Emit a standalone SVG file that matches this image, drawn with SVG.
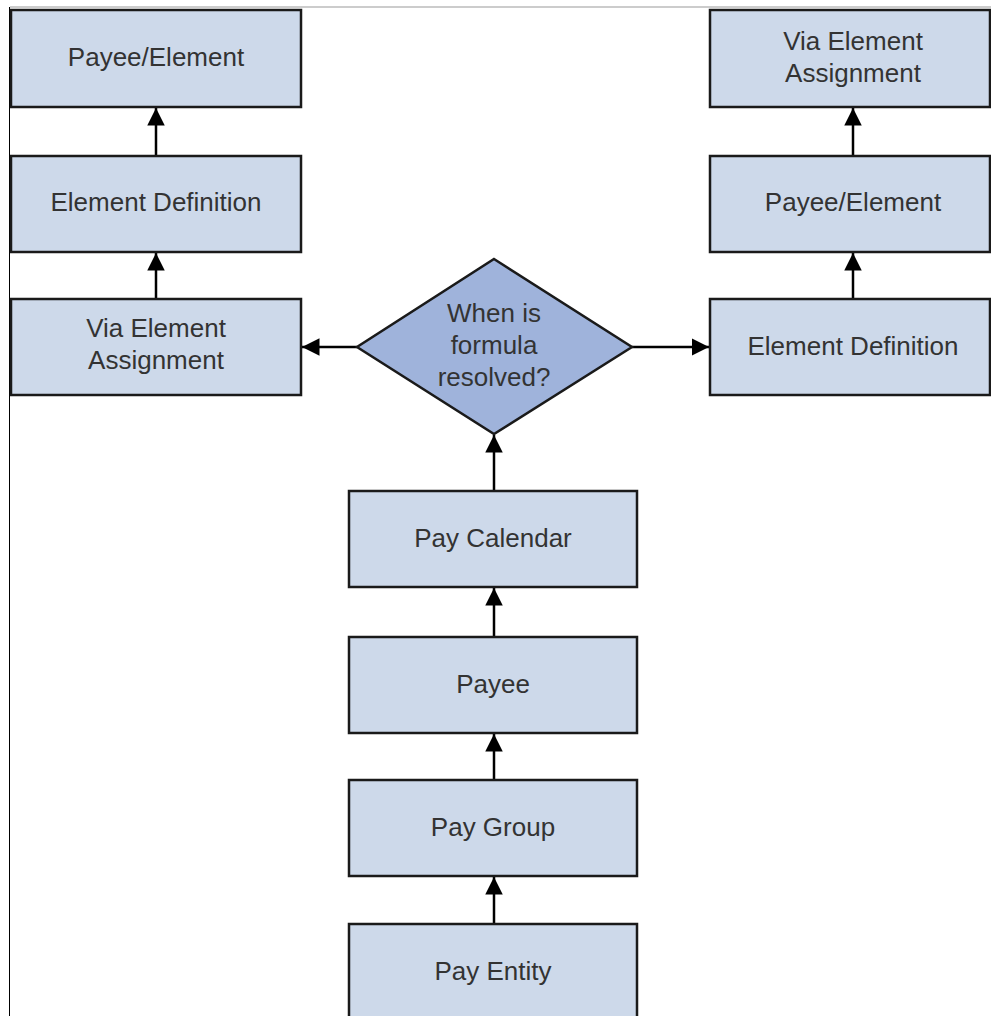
<svg xmlns="http://www.w3.org/2000/svg" width="991" height="1016" viewBox="0 0 991 1016">
<style>
.box{fill:#cdd9ea;stroke:#1a1a1a;stroke-width:2.5}
.dia{fill:#9fb3db;stroke:#1a1a1a;stroke-width:2.5}
.t{font-family:"Liberation Sans",Arial,sans-serif;font-size:26px;fill:#333;text-anchor:middle}
.c{stroke:#000;stroke-width:2.5;fill:none;marker-end:url(#ah)}
</style>
<defs>
<marker id="ah" viewBox="0 0 10 10" refX="10" refY="5" markerWidth="7" markerHeight="7" orient="auto" markerUnits="strokeWidth">
<path d="M0,0 L10,5 L0,10 Z" fill="#000"/>
</marker>
</defs>
<rect width="991" height="1016" fill="#fff"/>
<line x1="10" y1="7" x2="991" y2="7" stroke="#999" stroke-width="1"/>
<line x1="9.5" y1="7" x2="9.5" y2="1016" stroke="#000" stroke-width="1"/>
<g id="connectors">
<line class="c" x1="156" y1="156" x2="156" y2="108"/>
<line class="c" x1="156" y1="299" x2="156" y2="253"/>
<line class="c" x1="853" y1="156" x2="853" y2="108"/>
<line class="c" x1="853" y1="299" x2="853" y2="253"/>
<line class="c" x1="357" y1="347" x2="302" y2="347"/>
<line class="c" x1="632" y1="347" x2="709" y2="347"/>
<line class="c" x1="494" y1="491" x2="494" y2="435"/>
<line class="c" x1="494" y1="637" x2="494" y2="588"/>
<line class="c" x1="494" y1="780" x2="494" y2="734"/>
<line class="c" x1="494" y1="924" x2="494" y2="877"/>
</g>
<g id="n-l1"><rect class="box" x="11" y="10" width="290" height="97"/><text class="t" x="156" y="66">Payee/Element</text></g>
<g id="n-l2"><rect class="box" x="11" y="156" width="290" height="96"/><text class="t" x="156" y="211">Element Definition</text></g>
<g id="n-l3"><rect class="box" x="11" y="299" width="290" height="96"/><text class="t" x="156" y="337">Via Element</text><text class="t" x="156" y="369">Assignment</text></g>
<g id="n-r1"><rect class="box" x="710" y="10" width="280" height="97"/><text class="t" x="853" y="50">Via Element</text><text class="t" x="853" y="82">Assignment</text></g>
<g id="n-r2"><rect class="box" x="710" y="156" width="280" height="96"/><text class="t" x="853" y="211">Payee/Element</text></g>
<g id="n-r3"><rect class="box" x="710" y="299" width="280" height="96"/><text class="t" x="853" y="355">Element Definition</text></g>
<g id="n-dia"><polygon class="dia" points="494,259 632,347 494,434 357,347"/><text class="t" x="494" y="322">When is</text><text class="t" x="494" y="354">formula</text><text class="t" x="494" y="386">resolved?</text></g>
<g id="n-cal"><rect class="box" x="349" y="491" width="288" height="96"/><text class="t" x="493" y="547">Pay Calendar</text></g>
<g id="n-payee"><rect class="box" x="349" y="637" width="288" height="96"/><text class="t" x="493" y="693">Payee</text></g>
<g id="n-group"><rect class="box" x="349" y="780" width="288" height="96"/><text class="t" x="493" y="836">Pay Group</text></g>
<g id="n-entity"><rect class="box" x="349" y="924" width="288" height="100"/><text class="t" x="493" y="980">Pay Entity</text></g>
</svg>
